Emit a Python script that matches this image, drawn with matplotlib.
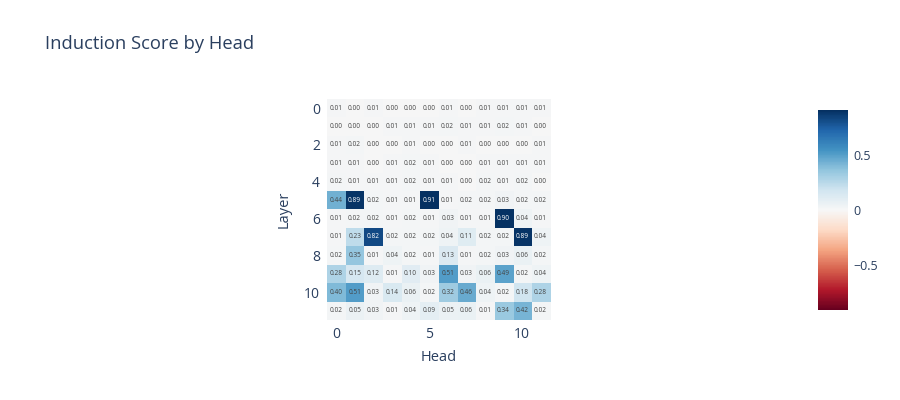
import numpy as np
import matplotlib.pyplot as plt
from matplotlib.colors import Normalize

plt.rcParams['font.family'] = ['Open Sans', 'DejaVu Sans']

heads = list(range(12))
layers = list(range(12))

scores = np.array([
    [0.01, 0.00, 0.01, 0.00, 0.00, 0.00, 0.01, 0.00, 0.01, 0.01, 0.01, 0.01],
    [0.00, 0.00, 0.00, 0.01, 0.01, 0.01, 0.02, 0.01, 0.01, 0.02, 0.01, 0.00],
    [0.01, 0.02, 0.00, 0.00, 0.01, 0.00, 0.00, 0.01, 0.00, 0.00, 0.00, 0.01],
    [0.01, 0.01, 0.00, 0.01, 0.02, 0.01, 0.00, 0.00, 0.01, 0.01, 0.01, 0.01],
    [0.02, 0.01, 0.01, 0.01, 0.02, 0.01, 0.01, 0.00, 0.02, 0.01, 0.02, 0.00],
    [0.44, 0.89, 0.02, 0.01, 0.01, 0.91, 0.01, 0.02, 0.02, 0.03, 0.02, 0.02],
    [0.01, 0.02, 0.02, 0.01, 0.02, 0.01, 0.03, 0.01, 0.01, 0.90, 0.04, 0.01],
    [0.01, 0.23, 0.82, 0.02, 0.02, 0.02, 0.04, 0.11, 0.02, 0.02, 0.89, 0.04],
    [0.02, 0.35, 0.01, 0.04, 0.02, 0.01, 0.13, 0.01, 0.02, 0.03, 0.06, 0.02],
    [0.28, 0.15, 0.12, 0.01, 0.10, 0.03, 0.51, 0.03, 0.06, 0.49, 0.02, 0.04],
    [0.40, 0.51, 0.03, 0.14, 0.06, 0.02, 0.32, 0.46, 0.04, 0.02, 0.18, 0.28],
    [0.02, 0.05, 0.03, 0.01, 0.04, 0.09, 0.05, 0.06, 0.01, 0.34, 0.42, 0.02],
])

text_col = '#2a3f5f'
vmax = np.abs(scores).max()
norm = Normalize(vmin=-vmax, vmax=vmax)

fig = plt.figure(figsize=(9, 4), dpi=100)
ax = fig.add_axes([0.363, 0.201, 0.248, 0.552])
im = ax.imshow(scores, cmap='RdBu', norm=norm, aspect='auto',
               interpolation='nearest')

for i in layers:
    for j in heads:
        v = scores[i, j]
        c = 'white' if v > 0.6 else '#444444'
        ax.text(j, i, f'{v:.2f}', ha='center', va='center', fontsize=4.7, color=c)

ax.set_xticks([0, 5, 10])
ax.set_yticks([0, 2, 4, 6, 8, 10])
ax.tick_params(length=0, labelsize=10, colors=text_col, pad=5)
for s in ax.spines.values():
    s.set_visible(False)
ax.set_xlabel('Head', fontsize=10.5, color=text_col, labelpad=6)
ax.set_ylabel('Layer', fontsize=10.5, color=text_col, labelpad=9)

cax = fig.add_axes([0.909, 0.225, 0.033, 0.5])
cb = fig.colorbar(im, cax=cax)
cb.set_ticks([-0.5, 0, 0.5])
cb.ax.set_yticklabels(['\u22120.5', '0', '0.5'])
cb.ax.tick_params(length=0, labelsize=9, colors=text_col, pad=4)
cb.outline.set_visible(False)

fig.text(0.05, 0.89, 'Induction Score by Head', fontsize=13.2, color=text_col,
         ha='left', va='center')

fig.savefig('out.png', dpi=100)
